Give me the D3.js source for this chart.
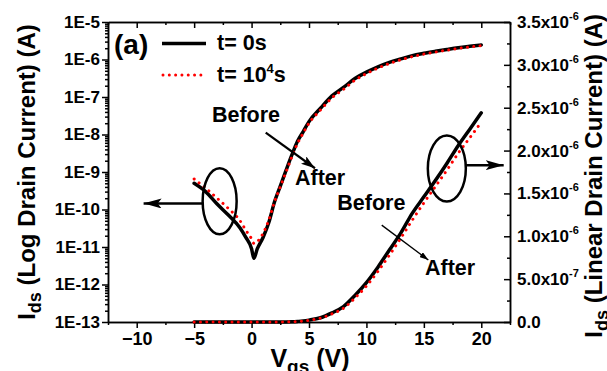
<!DOCTYPE html>
<html>
<head>
<meta charset="utf-8">
<script src="https://cdn.jsdelivr.net/npm/d3@7"></script>
<style>
  body { margin: 0; background: #fff; }
  text { font-family: "Liberation Sans", Arial, sans-serif; font-weight: bold; }
</style>
</head>
<body>
<svg width="607" height="371"></svg>
<script>
// gate voltage (V)
const vgs = [-5, -4, -3, -2, -1, -0.5, 0, 0.2, 0.5, 1, 1.5, 2, 2.5, 3, 3.5, 4, 4.5, 5,
             6, 7, 8, 9, 10, 11, 12, 13, 14, 15, 16, 17, 18, 19, 20];
// drain current t = 0s (A)
const ids0 = [5.0e-10, 3.0e-10, 1.4e-10, 7.0e-11, 3.2e-11, 1.8e-11, 9e-12, 5e-12, 9e-12, 1.8e-11,
              4.5e-11, 1.6e-10, 4.2e-10, 1.1e-9, 2.8e-9, 6.6e-9, 1.2e-8, 2.2e-8,
              5e-8, 1.07e-7, 1.8e-7, 3.1e-7, 4.6e-7, 6.4e-7, 8.4e-7, 1.04e-6, 1.27e-6, 1.46e-6,
              1.65e-6, 1.85e-6, 2.06e-6, 2.25e-6, 2.44e-6];
// drain current t = 10^4 s (A)
const ids1 = [6.5e-10, 3.7e-10, 2.0e-10, 1.05e-10, 5e-11, 2.8e-11, 1.65e-11, 1.25e-11, 1.4e-11, 2.3e-11,
              5.2e-11, 1.6e-10, 4.0e-10, 1.0e-9, 2.5e-9, 5.8e-9, 1.1e-8, 2.0e-8,
              4.5e-8, 9.5e-8, 1.6e-7, 2.8e-7, 4.2e-7, 5.9e-7, 7.8e-7, 9.8e-7, 1.19e-6, 1.39e-6,
              1.58e-6, 1.77e-6, 1.97e-6, 2.15e-6, 2.33e-6];

const xTicks = [-10, -5, 0, 5, 10, 15, 20];
const logTicks = [1e-13, 1e-12, 1e-11, 1e-10, 1e-9, 1e-8, 1e-7, 1e-6, 1e-5];
const linTicks = [0, 0.5e-6, 1.0e-6, 1.5e-6, 2.0e-6, 2.5e-6, 3.0e-6, 3.5e-6];
const linLabels = ['0.0', '5.0x10|-7', '1.0x10|-6', '1.5x10|-6', '2.0x10|-6', '2.5x10|-6', '3.0x10|-6', '3.5x10|-6'];

const svg = d3.select('svg');

const x = d3.scaleLinear().domain([-12.5, 22.5]).range([108, 510]);
const yLog = d3.scaleLog().domain([1e-13, 1e-5]).range([322, 22]);
const yLin = d3.scaleLinear().domain([0, 3.5e-6]).range([322, 22]);

const fmtAxis = g => {
  g.select('.domain').attr('stroke', '#000').attr('stroke-width', 1.5);
  g.selectAll('.tick line').attr('stroke', '#000').attr('stroke-width', 1.5);
  g.selectAll('.tick text').attr('fill', '#000').attr('font-size', 17);
};

// minor ticks
const xMinor = d3.range(-12.5, 22.6, 2.5).filter(v => v % 5 !== 0);
const logMinor = [];
logTicks.slice(0, -1).forEach(d => { for (let m = 2; m <= 9; m++) logMinor.push(d * m); });
const linMinor = d3.range(0.25e-6, 3.5e-6, 0.5e-6);

// bottom
svg.append('g').attr('transform', 'translate(0,322)')
  .call(d3.axisBottom(x).tickValues(xMinor).tickFormat('').tickSize(3).tickSizeOuter(0)).call(fmtAxis);
svg.append('g').attr('transform', 'translate(0,322)')
  .call(d3.axisBottom(x).tickValues(xTicks).tickSize(6).tickPadding(4).tickSizeOuter(0)).call(fmtAxis)
  .selectAll('.tick text').attr('font-size', 18);
// top
svg.append('g').attr('transform', 'translate(0,22)')
  .call(d3.axisTop(x).tickValues(xMinor).tickFormat('').tickSize(-3).tickSizeOuter(0)).call(fmtAxis);
svg.append('g').attr('transform', 'translate(0,22)')
  .call(d3.axisTop(x).tickValues(xTicks).tickFormat('').tickSize(-6).tickSizeOuter(0)).call(fmtAxis);
// left (log)
svg.append('g').attr('transform', 'translate(108,0)')
  .call(d3.axisLeft(yLog).tickValues(logMinor).tickFormat('').tickSize(3).tickSizeOuter(0)).call(fmtAxis);
svg.append('g').attr('transform', 'translate(108,0)')
  .call(d3.axisLeft(yLog).tickValues(logTicks).tickSize(6).tickPadding(2).tickSizeOuter(0)
    .tickFormat(d => '1E' + Math.round(Math.log10(d)))).call(fmtAxis);
// right (linear)
svg.append('g').attr('transform', 'translate(510,0)')
  .call(d3.axisRight(yLin).tickValues(linMinor).tickFormat('').tickSize(-3).tickSizeOuter(0)).call(fmtAxis);
const rAx = svg.append('g').attr('transform', 'translate(510,0)')
  .call(d3.axisRight(yLin).tickValues(linTicks).tickSize(-6).tickPadding(7).tickSizeOuter(0)).call(fmtAxis);
rAx.selectAll('.tick text').each(function (d, i) {
  const t = d3.select(this).text(null);
  const parts = linLabels[i].split('|');
  t.append('tspan').text(parts[0]);
  if (parts[1]) t.append('tspan').attr('dy', -8).attr('font-size', 11).text(parts[1]);
});

// curves
const rows0 = vgs.map((v, i) => ({ v, i: ids0[i] }));
const rows1 = vgs.map((v, i) => ({ v, i: ids1[i] }));
const logLine = d3.line().x(d => x(d.v)).y(d => yLog(d.i)).curve(d3.curveMonotoneX);
const linLine = d3.line().x(d => x(d.v)).y(d => yLin(d.i)).curve(d3.curveMonotoneX);

const drawSeries = (rows, gen, red) => {
  svg.append('path').attr('d', gen(rows)).attr('fill', 'none')
    .attr('stroke', red ? '#ff0000' : '#000')
    .attr('stroke-width', red ? 3 : 3.5)
    .attr('stroke-linecap', 'round')
    .attr('stroke-dasharray', red ? '0.01 6.3' : null);
};
drawSeries(rows0, logLine, false);
drawSeries(rows0, linLine, false);
drawSeries(rows1, logLine, true);
drawSeries(rows1, linLine, true);

// arrow heads
const defs = svg.append('defs');
defs.append('marker').attr('id', 'big').attr('viewBox', '0 0 18 10').attr('refX', 18).attr('refY', 5)
  .attr('markerWidth', 18).attr('markerHeight', 10).attr('markerUnits', 'userSpaceOnUse').attr('orient', 'auto')
  .append('path').attr('d', 'M0,0 L18,5 L0,10 L4,5 Z').attr('fill', '#000');
defs.append('marker').attr('id', 'mid').attr('viewBox', '0 0 14 9').attr('refX', 14).attr('refY', 4.5)
  .attr('markerWidth', 14).attr('markerHeight', 9).attr('markerUnits', 'userSpaceOnUse').attr('orient', 'auto')
  .append('path').attr('d', 'M0,0 L14,4.5 L0,9 L3,4.5 Z').attr('fill', '#000');
defs.append('marker').attr('id', 'small').attr('viewBox', '0 0 9 6').attr('refX', 9).attr('refY', 3)
  .attr('markerWidth', 9).attr('markerHeight', 6).attr('markerUnits', 'userSpaceOnUse').attr('orient', 'auto')
  .append('path').attr('d', 'M0,0 L9,3 L0,6 Z').attr('fill', '#000');

// ellipses + pointer arrows
svg.append('ellipse').attr('cx', x(-2.78)).attr('cy', yLog(1.66e-10)).attr('rx', 17).attr('ry', 33)
  .attr('fill', 'none').attr('stroke', '#000').attr('stroke-width', 2.5);
svg.append('line').attr('x1', x(-4.2)).attr('y1', yLog(1.45e-10)).attr('x2', x(-9.4)).attr('y2', yLog(1.45e-10))
  .attr('stroke', '#000').attr('stroke-width', 2.5).attr('marker-end', 'url(#big)');
svg.append('ellipse').attr('cx', x(17)).attr('cy', yLin(1.79e-6)).attr('rx', 19).attr('ry', 33)
  .attr('fill', 'none').attr('stroke', '#000').attr('stroke-width', 2.5);
svg.append('line').attr('x1', x(18.64)).attr('y1', yLin(1.83e-6)).attr('x2', x(21.95)).attr('y2', yLin(1.83e-6))
  .attr('stroke', '#000').attr('stroke-width', 2.5).attr('marker-end', 'url(#big)');

// before / after
svg.append('line').attr('x1', x(1.23)).attr('y1', yLog(1.12e-8)).attr('x2', x(5.52)).attr('y2', yLog(1.26e-9))
  .attr('stroke', '#000').attr('stroke-width', 2.2).attr('marker-end', 'url(#mid)');
svg.append('line').attr('x1', x(11.33)).attr('y1', yLin(1.13e-6)).attr('x2', x(15.39)).attr('y2', yLin(0.723e-6))
  .attr('stroke', '#000').attr('stroke-width', 1.3).attr('marker-end', 'url(#small)');
const note = (t, px, py) => svg.append('text').attr('x', px).attr('y', py).attr('font-size', 21.5).text(t);
note('Before', x(-3.45), yLog(2.2e-8));
note('After', x(3.78), yLog(4.5e-10));
note('Before', x(7.46), yLin(1.307e-6));
note('After', x(15.1), yLin(0.548e-6));

// legend
svg.append('text').attr('x', 114).attr('y', 54).attr('font-size', 28).text('(a)');
svg.append('line').attr('x1', 162).attr('x2', 206).attr('y1', 43.5).attr('y2', 43.5)
  .attr('stroke', '#000').attr('stroke-width', 3.5);
svg.append('line').attr('x1', 163).attr('x2', 202).attr('y1', 75).attr('y2', 75)
  .attr('stroke', '#ff0000').attr('stroke-width', 3).attr('stroke-linecap', 'round').attr('stroke-dasharray', '0.01 6.3');
svg.append('text').attr('x', 217).attr('y', 50).attr('font-size', 21.5).text('t= 0s');
const l2 = svg.append('text').attr('x', 217).attr('y', 82).attr('font-size', 21.5);
l2.append('tspan').text('t= 10');
l2.append('tspan').attr('dy', -9).attr('font-size', 13).text('4');
l2.append('tspan').attr('dy', 9).text('s');

// axis titles
const xt = svg.append('text').attr('x', 310).attr('y', 367).attr('text-anchor', 'middle').attr('font-size', 25);
xt.append('tspan').text('V');
xt.append('tspan').attr('dy', 6).attr('font-size', 19).text('gs');
xt.append('tspan').attr('dy', -6).text(' (V)');

const lt = svg.append('text').attr('transform', 'translate(35,172) rotate(-90)').attr('text-anchor', 'middle').attr('font-size', 24);
lt.append('tspan').text('I');
lt.append('tspan').attr('dy', 6).attr('font-size', 18).text('ds');
lt.append('tspan').attr('dy', -6).text(' (Log Drain Current) (A)');

const rt = svg.append('text').attr('transform', 'translate(602,14) rotate(-90)').attr('text-anchor', 'end').attr('font-size', 24);
rt.append('tspan').text('I');
rt.append('tspan').attr('dy', 6).attr('font-size', 18).text('ds');
rt.append('tspan').attr('dy', -6).text(' (Linear Drain Current) (A)');
</script>
</body>
</html>
